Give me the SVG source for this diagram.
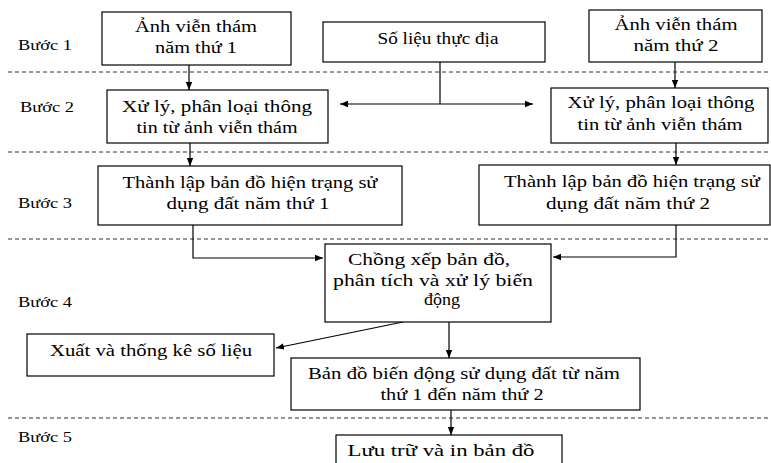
<svg xmlns="http://www.w3.org/2000/svg" width="771" height="463" viewBox="0 0 771 463">
<defs>
<marker id="ah" viewBox="0 0 10 10" refX="10" refY="5" markerWidth="8" markerHeight="8" markerUnits="userSpaceOnUse" orient="auto">
<path d="M0,1 L10,5 L0,9 Z" fill="#000"/>
</marker>
</defs>
<style>
.box{fill:#fff;stroke:#000;stroke-width:1.2}
.t{font-family:"Liberation Serif","Times New Roman",serif;font-size:17.5px;fill:#000;text-anchor:middle}
.s{font-family:"Liberation Serif","Times New Roman",serif;font-size:15px;fill:#000}
.dash{stroke:#333;stroke-width:1;stroke-dasharray:4,3;fill:none}
.c{stroke:#000;stroke-width:1.2;fill:none}
.ca{stroke:#000;stroke-width:1.2;fill:none;marker-end:url(#ah)}
</style>
<rect width="771" height="463" fill="#fff"/>
<g id="steps">
<text class="s" x="18" y="50" textLength="54" lengthAdjust="spacingAndGlyphs">Bước 1</text>
<text class="s" x="20" y="112" textLength="54" lengthAdjust="spacingAndGlyphs">Bước 2</text>
<text class="s" x="18" y="208" textLength="54" lengthAdjust="spacingAndGlyphs">Bước 3</text>
<text class="s" x="18" y="307" textLength="54" lengthAdjust="spacingAndGlyphs">Bước 4</text>
<text class="s" x="18" y="442" textLength="54" lengthAdjust="spacingAndGlyphs">Bước 5</text>
</g>
<g id="separators">
<line class="dash" x1="8" y1="72" x2="771" y2="72"/>
<line class="dash" x1="8" y1="152" x2="771" y2="152"/>
<line class="dash" x1="8" y1="239" x2="771" y2="239"/>
<line class="dash" x1="8" y1="418" x2="771" y2="418"/>
</g>
<g id="connectors">
<line class="ca" x1="189" y1="65" x2="189" y2="90"/>
<line class="ca" x1="675" y1="62" x2="675" y2="88"/>
<line class="c" x1="440" y1="62" x2="440" y2="104"/>
<line class="ca" x1="440" y1="104" x2="340" y2="104"/>
<line class="ca" x1="440" y1="104" x2="533" y2="104"/>
<line class="ca" x1="190" y1="143" x2="190" y2="166"/>
<line class="ca" x1="676" y1="143" x2="676" y2="165"/>
<path class="ca" d="M193,225 V258 H323"/>
<path class="ca" d="M676,225 V257 H553"/>
<line class="ca" x1="403" y1="322" x2="276" y2="348"/>
<line class="ca" x1="449" y1="322" x2="449" y2="358"/>
<line class="ca" x1="451" y1="410" x2="451" y2="435"/>
</g>
<g id="n1">
<rect class="box" x="102" y="12" width="189" height="53"/>
<text class="t" x="196" y="32" textLength="122" lengthAdjust="spacingAndGlyphs">Ảnh viễn thám</text>
<text class="t" x="196" y="53" textLength="82" lengthAdjust="spacingAndGlyphs">năm thứ 1</text>
</g>
<g id="n2">
<rect class="box" x="323" y="22" width="222" height="40"/>
<text class="t" x="438" y="44" textLength="121" lengthAdjust="spacingAndGlyphs">Số liệu thực địa</text>
</g>
<g id="n3">
<rect class="box" x="589" y="10" width="173" height="52"/>
<text class="t" x="676" y="30" textLength="123" lengthAdjust="spacingAndGlyphs">Ảnh viễn thám</text>
<text class="t" x="676" y="51" textLength="85" lengthAdjust="spacingAndGlyphs">năm thứ 2</text>
</g>
<g id="n4">
<rect class="box" x="107" y="90" width="221" height="53"/>
<text class="t" x="217" y="112" textLength="190" lengthAdjust="spacingAndGlyphs">Xử lý, phân loại thông</text>
<text class="t" x="217" y="133" textLength="161" lengthAdjust="spacingAndGlyphs">tin từ ảnh viễn thám</text>
</g>
<g id="n5">
<rect class="box" x="551" y="88" width="217" height="55"/>
<text class="t" x="661" y="108" textLength="187" lengthAdjust="spacingAndGlyphs">Xử lý, phân loại thông</text>
<text class="t" x="660" y="130" textLength="165" lengthAdjust="spacingAndGlyphs">tin từ ảnh viễn thám</text>
</g>
<g id="n6">
<rect class="box" x="98" y="166" width="304" height="59"/>
<text class="t" x="250" y="188" textLength="255" lengthAdjust="spacingAndGlyphs">Thành lập bản đồ hiện trạng sử</text>
<text class="t" x="248" y="209" textLength="163" lengthAdjust="spacingAndGlyphs">dụng đất năm thứ 1</text>
</g>
<g id="n7">
<rect class="box" x="479" y="165" width="291" height="60"/>
<text class="t" x="632" y="187" textLength="256" lengthAdjust="spacingAndGlyphs">Thành lập bản đồ hiện trạng sử</text>
<text class="t" x="628" y="209" textLength="164" lengthAdjust="spacingAndGlyphs">dụng đất năm thứ 2</text>
</g>
<g id="n8">
<rect class="box" x="325" y="244" width="226" height="78"/>
<text class="t" x="429" y="265" textLength="162" lengthAdjust="spacingAndGlyphs">Chồng xếp bản đồ,</text>
<text class="t" x="433" y="286" textLength="200" lengthAdjust="spacingAndGlyphs">phân tích và xử lý biến</text>
<text class="t" x="442" y="305" textLength="36" lengthAdjust="spacingAndGlyphs">động</text>
</g>
<g id="n9">
<rect class="box" x="27" y="334" width="247" height="42"/>
<text class="t" x="151" y="356" textLength="202" lengthAdjust="spacingAndGlyphs">Xuất và thống kê số liệu</text>
</g>
<g id="n10">
<rect class="box" x="291" y="358" width="349" height="52"/>
<text class="t" x="464" y="379" textLength="312" lengthAdjust="spacingAndGlyphs">Bản đồ biến động sử dụng đất từ năm</text>
<text class="t" x="462" y="400" textLength="163" lengthAdjust="spacingAndGlyphs">thứ 1 đến năm thứ 2</text>
</g>
<g id="n11">
<rect class="box" x="336" y="435" width="226" height="40"/>
<text class="t" x="441" y="456" textLength="187" lengthAdjust="spacingAndGlyphs">Lưu trữ và in bản đồ</text>
</g>
</svg>
